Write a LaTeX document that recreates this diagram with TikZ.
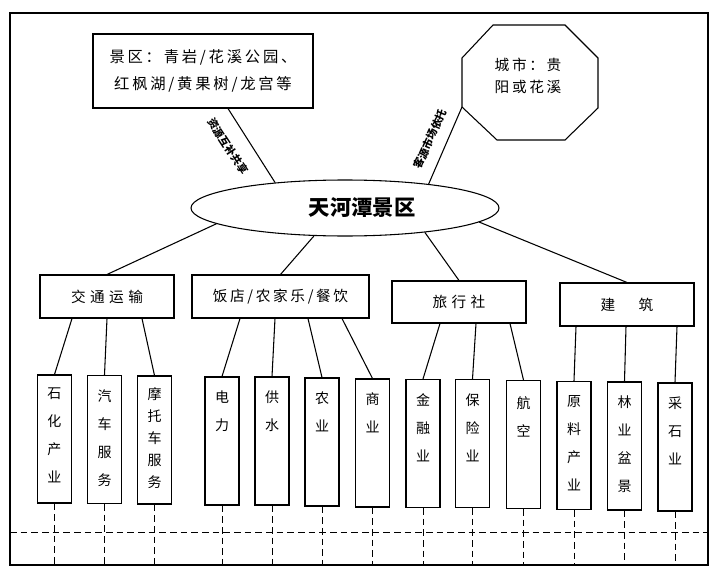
\documentclass[tikz,border=0pt]{standalone}
\usepackage{fontspec}
\setmainfont{Noto Sans CJK SC}
\newfontfamily\cjkA[LetterSpace=30]{Noto Sans CJK SC}
\newfontfamily\cjkB[LetterSpace=18]{Noto Sans CJK SC}
\usetikzlibrary{calc,shapes.geometric}
\begin{document}
\begin{tikzpicture}[x=0.75pt,y=-0.75pt,line width=0.8pt,
  box/.style={draw,inner sep=0pt},
  lvtwo/.style={draw,inner sep=0pt,minimum width=100.5pt,minimum height=32.25pt},
  vbox/.style={draw,inner sep=0pt,minimum width=25.5pt,minimum height=96pt},
  vlab/.style={anchor=north,align=center,inner sep=0pt,font=\fontsize{10.5}{21}\selectfont},
  vlabtight/.style={vlab,font=\fontsize{10.5}{16.5}\selectfont},
  dline/.style={dashed,dash pattern=on 5pt off 3pt,line width=0.7pt},
  conlab/.style={font=\bfseries\fontsize{8}{8}\selectfont,inner sep=0pt}
]
\useasboundingbox (0,0) rectangle (715,571);
% frame
\node[box,minimum width=523.5pt,minimum height=414pt] (frame) at (359,289) {};

% top nodes
\node[box,minimum width=165pt,minimum height=55.5pt,align=center,
      font=\cjkB\fontsize{11.5}{20}\selectfont] (jq) at (203,71)
      {景区：青岩/花溪公园、\\红枫湖/黄果树/龙宫等};
\draw (493,25) -- (565,25) -- (598,58) -- (598,108) -- (565,140)
      -- (497,140) -- (462,107) -- (462,58) -- cycle;
\coordinate (csv) at (462,107);
\node[align=center,font=\cjkB\fontsize{11}{16.5}\selectfont] (cs) at (528,76) {城市：贵\\阳或花溪};

% ellipse
\node[draw,ellipse,inner sep=0pt,minimum width=231pt,minimum height=42pt] (el) at (345,208) {};
\node[font=\fontsize{16}{16}\selectfont\bfseries] (title) at (362,208) {天河潭景区};

\coordinate (jqs) at ($(jq.south)+(25,0)$);
\draw (jqs) -- (el.160);
\draw (csv) -- (el.16);
\node[conlab,rotate=-57] (lab1) at (228,146) {资源互补共享};
\node[conlab,rotate=66] (lab2) at (430,139) {客源市场依托};

% level 2
\node[lvtwo,font=\cjkA\fontsize{11}{11}\selectfont] (t) at (107,296.5) {交通运输};
\node[lvtwo,minimum width=132.75pt,font=\cjkB\fontsize{11}{11}\selectfont] (f) at (280.5,296.5) {饭店/农家乐/餐饮};
\node[lvtwo,minimum height=31.5pt,font=\cjkA\fontsize{11}{11}\selectfont] (l) at (459,302) {旅行社};
\node[lvtwo,font=\cjkA\fontsize{11}{11}\selectfont] (j) at (627,304.5) {建　筑};

\draw (el.187) -- (t.north);
\draw (el.222) -- (f.north);
\draw (el.343) -- (l.north);
\draw (el.354) -- (j.north);

% level 3 boxes
\node[vbox] (b1) at (54.5,439) {};
\node[vbox] (b2) at (104.5,439.5) {};
\node[vbox] (b3) at (154.5,440) {};
\node[vbox] (b4) at (222,441) {};
\node[vbox] (b5) at (272,441) {};
\node[vbox] (b6) at (322,442) {};
\node[vbox] (b7) at (372.5,443) {};
\node[vbox] (b8) at (423,443.5) {};
\node[vbox] (b9) at (472.5,443.5) {};
\node[vbox] (b10) at (523.5,444.5) {};
\node[vbox] (b11) at (574,445.5) {};
\node[vbox] (b12) at (624.5,446) {};
\node[vbox] (b13) at (675,447) {};

\node[vlab] (b1t) at ($(b1.north)+(0,13)$) {石\\化\\产\\业};
\node[vlab] (b2t) at ($(b2.north)+(0,14)$) {汽\\车\\服\\务};
\node[vlabtight] (b3t) at ($(b3.north)+(0,12)$) {摩\\托\\车\\服\\务};
\node[vlab] (b4t) at ($(b4.north)+(0,14)$) {电\\力};
\node[vlab] (b5t) at ($(b5.north)+(0,14)$) {供\\水};
\node[vlab] (b6t) at ($(b6.north)+(0,14)$) {农\\业};
\node[vlab] (b7t) at ($(b7.north)+(0,14)$) {商\\业};
\node[vlab] (b8t) at ($(b8.north)+(0,14)$) {金\\融\\业};
\node[vlab] (b9t) at ($(b9.north)+(0,14)$) {保\\险\\业};
\node[vlab] (b10t) at ($(b10.north)+(0,16)$) {航\\空};
\node[vlab] (b11t) at ($(b11.north)+(0,14)$) {原\\料\\产\\业};
\node[vlab] (b12t) at ($(b12.north)+(0,14)$) {林\\业\\盆\\景};
\node[vlab] (b13t) at ($(b13.north)+(0,14)$) {采\\石\\业};

% level 2 -> 3
\draw ($(t.south)+(-35,0)$) -- (b1.north);
\draw ($(t.south)+(0,0)$) -- (b2.north);
\draw ($(t.south)+(35,0)$) -- (b3.north);
\draw ($(f.south)+(-40.5,0)$) -- (b4.north);
\draw ($(f.south)+(-5.5,0)$) -- (b5.north);
\draw ($(f.south)+(27.5,0)$) -- (b6.north);
\draw ($(f.south)+(61.5,0)$) -- (b7.north);
\draw ($(l.south)+(-19,0)$) -- (b8.north);
\draw ($(l.south)+(17,0)$) -- (b9.north);
\draw ($(l.south)+(51,0)$) -- (b10.north);
\draw ($(j.south)+(-51,0)$) -- (b11.north);
\draw ($(j.south)+(-1,0)$) -- (b12.north);
\draw ($(j.south)+(50,0)$) -- (b13.north);

% dashed lines
\coordinate (hl) at (10,532);
\coordinate (hr) at (708,532);
\draw[dline] (hl) -- (hr);
\foreach \b in {b1,b2,b3,b4,b5,b6,b7,b8,b9,b10,b11,b12,b13}{
  \draw[dline] (\b.south) -- (\b.south |- frame.south);
}
\end{tikzpicture}
\end{document}
